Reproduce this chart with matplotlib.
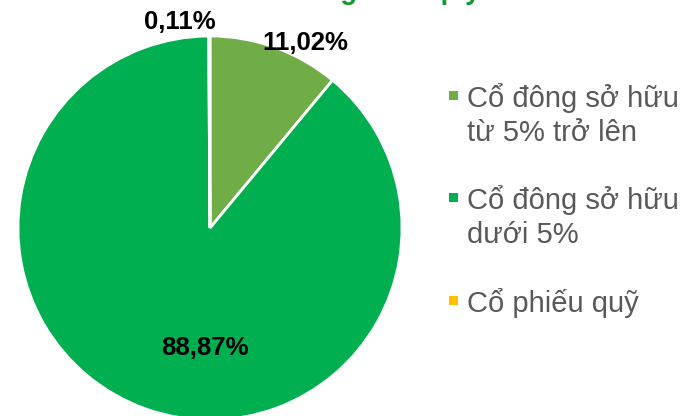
import matplotlib
matplotlib.use("Agg")
import matplotlib.pyplot as plt
from matplotlib.patches import Rectangle

plt.rcParams['font.family'] = ['Liberation Sans', 'DejaVu Sans']

categories = ["Cổ đông sở hữu\ntừ 5% trở lên", "Cổ đông sở hữu\ndưới 5%", "Cổ phiếu quỹ"]
values = [11.02, 88.87, 0.11]
value_labels = ["11,02%", "88,87%", "0,11%"]
colors = ["#70AD47", "#00B050", "#FFC000"]
title = "Cơ cấu cổ đông theo quy mô sở hữu"

W, H = 684, 416
fig = plt.figure(figsize=(W / 100, H / 100), dpi=100)
cx, cy, r = 210, 228, 192
ax = fig.add_axes([(cx - r) / W, (H - cy - r) / H, 2 * r / W, 2 * r / H])
wedges, _ = ax.pie(values, colors=colors, startangle=90, counterclock=False,
                   radius=1.0, wedgeprops=dict(edgecolor="white", linewidth=2))
ax.set_xlim(-1, 1)
ax.set_ylim(-1, 1)
ax.set_aspect("equal")
ax.axis("off")

label_pos = [(0.495, 0.965), (-0.026, -0.625), (-0.156, 1.075)]
for (x, y), t in zip(label_pos, value_labels):
    ax.text(x, y, t, ha="center", va="center", fontsize=18.5, fontweight="bold",
            color="black", clip_on=False)

# title (cut off at the top edge, as in the reference)
fig.text(390 / W, 1 + 1 / H, title, ha="center", va="baseline", fontsize=20,
         fontweight="bold", color="#129A2E")

# legend
baselines = [107, 209, 312]
line_step = 34
for cat, col, b in zip(categories, colors, baselines):
    for i, line in enumerate(cat.split("\n")):
        fig.text(467 / W, 1 - (b + i * line_step) / H, line, ha="left",
                 va="baseline", fontsize=21, color="#595959")
    fig.add_artist(Rectangle((449 / W, 1 - (b - 7) / H), 9 / W, 9 / H,
                             transform=fig.transFigure, facecolor=col,
                             edgecolor="none"))

fig.savefig("out.png", dpi=100)
